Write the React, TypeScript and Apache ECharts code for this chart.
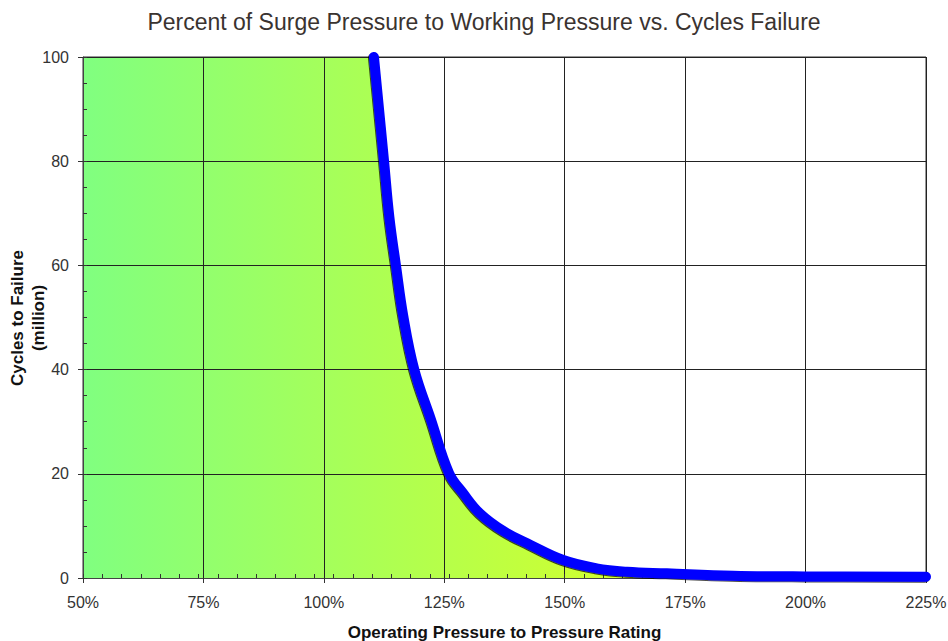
import React, { useEffect, useRef } from "react";
import * as echarts from "echarts";

const titleText = "Percent of Surge Pressure to Working Pressure vs. Cycles Failure";
const xAxisName = "Operating Pressure to Pressure Rating";
const yAxisName = "Cycles to Failure\n(million)";

// Operating pressure as percent of rating
const pressurePct = [110.4, 112.5, 113.6, 115.0, 116.5, 118.8, 122.2, 126.0, 128.9, 132.4, 137.3, 142.8, 149.7, 156.6, 162.9, 171.2, 185.0, 200.0, 225.0];
// Cycles to failure (million)
const cyclesMillion = [100, 80, 69.3, 59.8, 50.2, 39.9, 30.5, 20.1, 16.3, 12.4, 9.0, 6.4, 3.45, 1.86, 1.2, 0.9, 0.45, 0.3, 0.25];

// Safe-zone fill starts at the left edge of the chart at the top
const fillStart = [[50, 100]];

const FONT = "'Liberation Sans', Arial, sans-serif";

export default function App() {
  const ref = useRef<HTMLDivElement>(null);

  useEffect(() => {
    if (!ref.current) return;
    const chart = echarts.init(ref.current, undefined, { renderer: "svg" });
    const curve = pressurePct.map((x, i) => [x, cyclesMillion[i]]);
    const fillData = [...fillStart, ...curve];

    chart.setOption({
      animation: false,
      backgroundColor: "#ffffff",
      textStyle: { fontFamily: FONT },
      grid: {
        left: 83,
        right: 22,
        top: 57,
        bottom: 63,
        containLabel: false,
        outerBoundsMode: "none",
        show: true,
        borderColor: "#333",
        borderWidth: 1,
        backgroundColor: "transparent",
      },
      graphic: [
        {
          type: "text",
          x: 484,
          y: 22,
          style: {
            text: titleText,
            align: "center",
            verticalAlign: "middle",
            fontSize: 23,
            fontFamily: FONT,
            fill: "#3a3330",
          },
        },
        {
          type: "text",
          x: 28,
          y: 318,
          rotation: Math.PI / 2,
          style: {
            text: yAxisName,
            align: "center",
            verticalAlign: "middle",
            fontSize: 17,
            fontWeight: "bold",
            lineHeight: 21,
            fontFamily: FONT,
            fill: "#111",
          },
        },
      ],
      xAxis: [
        {
          type: "value",
          min: 50,
          max: 225,
          interval: 25,
          z: 3,
          position: "bottom",
          name: xAxisName,
          nameLocation: "middle",
          nameGap: 46,
          nameTextStyle: { fontSize: 17, fontWeight: "bold", color: "#111", fontFamily: FONT, verticalAlign: "top" },
          axisLine: { show: true, lineStyle: { color: "#444", width: 1 } },
          axisTick: { show: true, inside: false, length: 5, lineStyle: { color: "#333" } },
          axisLabel: { formatter: (v: number) => `${v}%`, fontSize: 16, color: "#333", margin: 16, fontFamily: FONT },
          splitLine: { show: true, lineStyle: { color: "#222", width: 1 } },
        },
        {
          type: "value",
          min: 0,
          max: 175,
          interval: 4,
          z: 3,
          position: "bottom",
          axisLine: { show: false },
          axisTick: { show: true, inside: true, length: 4, lineStyle: { color: "#333" } },
          axisLabel: { show: false },
          splitLine: { show: false },
        },
      ],
      yAxis: [
        {
          type: "value",
          min: 0,
          max: 100,
          interval: 20,
          z: 3,
          position: "left",
          axisLine: { show: true, lineStyle: { color: "#444", width: 1 } },
          axisTick: { show: true, inside: false, length: 5, lineStyle: { color: "#333" } },
          axisLabel: { fontSize: 16, color: "#333", margin: 14, fontFamily: FONT },
          splitLine: { show: true, lineStyle: { color: "#222", width: 1 } },
        },
        {
          type: "value",
          min: 0,
          max: 100,
          interval: 5,
          z: 3,
          position: "left",
          axisLine: { show: false },
          axisTick: { show: true, inside: true, length: 4, lineStyle: { color: "#333" } },
          axisLabel: { show: false },
          splitLine: { show: false },
        },
      ],
      series: [
        {
          type: "line",
          name: "fill",
          xAxisIndex: 0,
          yAxisIndex: 0,
          data: fillData,
          smooth: 0.4,
          symbol: "none",
          z: 1,
          lineStyle: { width: 0, opacity: 0 },
          areaStyle: {
            opacity: 1,
            color: new echarts.graphic.LinearGradient(83, 0, 926, 0, [
              { offset: 0, color: "#80ff80" },
              { offset: 1, color: "#ffff00" },
            ], true),
          },
          silent: true,
        },
        {
          type: "line",
          name: "Cycles to Failure",
          xAxisIndex: 0,
          yAxisIndex: 0,
          data: curve,
          smooth: 0.4,
          symbol: "none",
          z: 5,
          clip: false,
          lineStyle: {
            color: "#0000ff",
            width: 10,
            cap: "round",
            join: "round",
            shadowColor: "rgba(0,0,0,0.7)",
            shadowBlur: 0,
            shadowOffsetX: -1,
            shadowOffsetY: 1,
          },
        },
      ],
    });
    return () => chart.dispose();
  }, []);

  return (
    <div
      ref={ref}
      style={{ position: "fixed", left: 0, top: 0, width: 948, height: 641 }}
    />
  );
}
